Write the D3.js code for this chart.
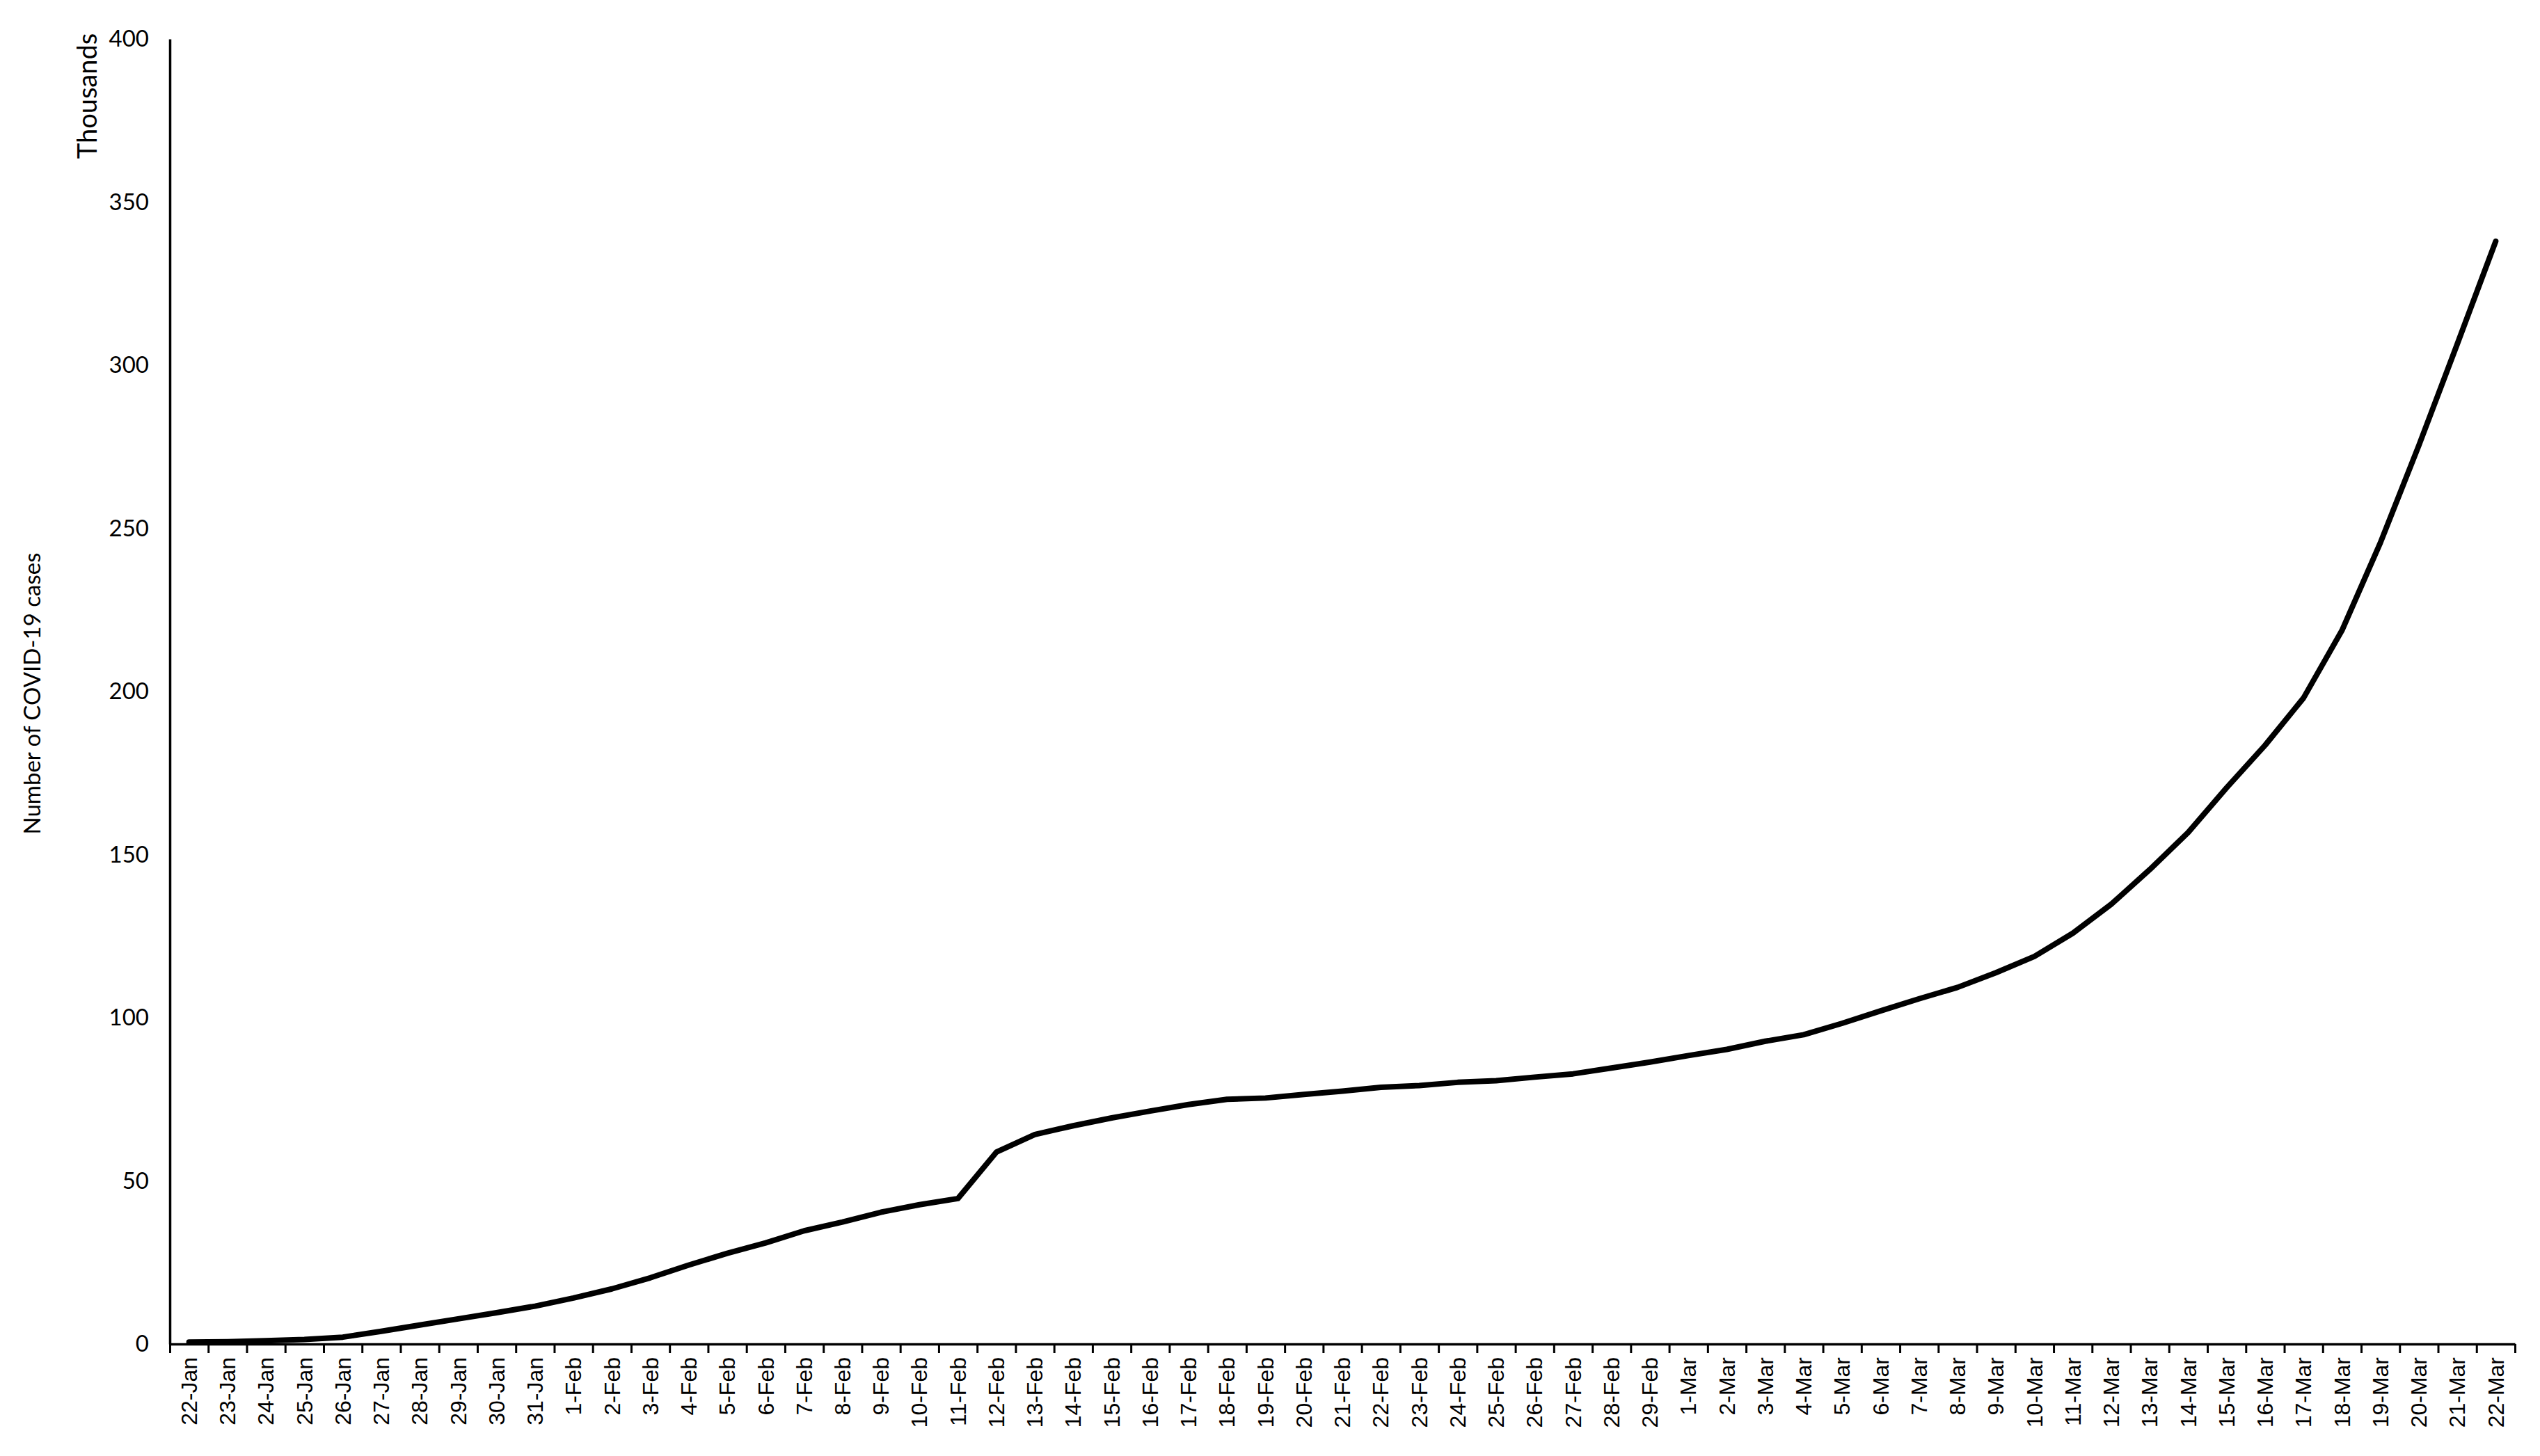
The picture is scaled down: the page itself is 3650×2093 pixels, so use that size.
<!DOCTYPE html>
<html>
<head>
<meta charset="utf-8">
<script src="https://cdn.jsdelivr.net/npm/d3@7"></script>
<style>
  body { margin: 0; background: #fff; }
</style>
</head>
<body>
<div id="chart"></div>
<script>
// categories (day labels)
var janDays = ["22-Jan","23-Jan","24-Jan","25-Jan","26-Jan","27-Jan","28-Jan","29-Jan","30-Jan","31-Jan"];
var febDays = ["1-Feb","2-Feb","3-Feb","4-Feb","5-Feb","6-Feb","7-Feb","8-Feb","9-Feb","10-Feb",
  "11-Feb","12-Feb","13-Feb","14-Feb","15-Feb","16-Feb","17-Feb","18-Feb","19-Feb","20-Feb",
  "21-Feb","22-Feb","23-Feb","24-Feb","25-Feb","26-Feb","27-Feb","28-Feb","29-Feb"];
var marDays = ["1-Mar","2-Mar","3-Mar","4-Mar","5-Mar","6-Mar","7-Mar","8-Mar","9-Mar","10-Mar",
  "11-Mar","12-Mar","13-Mar","14-Mar","15-Mar","16-Mar","17-Mar","18-Mar","19-Mar","20-Mar",
  "21-Mar","22-Mar"];
var days = janDays.concat(febDays, marDays);

// cumulative cases, thousands
var casesJan = [0.6, 0.7, 1.0, 1.4, 2.1, 3.9, 5.8, 7.7, 9.6, 11.6];
var casesFeb = [14.1, 16.9, 20.3, 24.2, 27.8, 31.0, 34.7, 37.4, 40.4, 42.7,
  44.6, 58.8, 64.2, 66.9, 69.3, 71.4, 73.4, 75.0, 75.4, 76.5,
  77.5, 78.7, 79.2, 80.2, 80.7, 81.8, 82.8, 84.6, 86.4];
var casesMar = [88.4, 90.3, 92.8, 94.8, 98.3, 102.1, 105.8, 109.3, 113.8, 118.8,
  125.9, 134.8, 145.4, 156.8, 170.5, 183.5, 198.0, 218.7, 245.6, 275.4,
  306.5, 338.0];
var cases = casesJan.concat(casesFeb, casesMar);

var yTicks = [0, 50, 100, 150, 200, 250, 300, 350, 400];

var W = 3650, H = 2093;
var margin = {left: 244, right: 3614, top: 56, bottom: 1932};

var svg = d3.select("#chart").append("svg")
  .attr("width", W)
  .attr("height", H)
  .style("background", "#fff");

var xscale = d3.scaleBand()
  .domain(days)
  .range([margin.left, margin.right])
  .padding(0);
// edges between categories, for the tick marks
var xedge = d3.scaleLinear()
  .domain([0, days.length])
  .range([margin.left, margin.right]);
var yscale = d3.scaleLinear()
  .domain([0, 400])
  .range([margin.bottom, margin.top]);

// y axis
var yaxis = d3.axisLeft(yscale)
  .tickValues(yTicks)
  .tickSize(0)
  .tickSizeOuter(0)
  .tickPadding(30);
var gy = svg.append("g")
  .attr("transform", "translate(" + margin.left + ",0)")
  .call(yaxis);
gy.select(".domain").attr("stroke", "#000").attr("stroke-width", 3.5);
gy.selectAll("text")
  .attr("fill", "#000")
  .style("font-family", "Lato, 'Open Sans', sans-serif")
  .style("font-size", "33px");

// x axis tick marks (between categories)
var xticks = d3.axisBottom(xedge)
  .tickValues(d3.range(days.length + 1))
  .tickFormat("")
  .tickSize(13)
  .tickSizeOuter(0);
var gxt = svg.append("g")
  .attr("transform", "translate(0," + margin.bottom + ")")
  .call(xticks);
gxt.select(".domain").attr("stroke", "#000").attr("stroke-width", 3.5);
gxt.selectAll(".tick line").attr("stroke", "#000").attr("stroke-width", 3);

// x labels
var xaxis = d3.axisBottom(xscale).tickSize(0).tickSizeOuter(0);
var gx = svg.append("g")
  .attr("transform", "translate(0," + margin.bottom + ")")
  .call(xaxis);
gx.select(".domain").remove();
gx.selectAll("text")
  .attr("fill", "#000")
  .attr("transform", "rotate(-90)")
  .attr("x", -19)
  .attr("y", 0)
  .attr("dy", "0.35em")
  .attr("text-anchor", "end")
  .style("font-family", "'Liberation Sans', Arial, sans-serif")
  .style("font-size", "32px");

// the line
var line = d3.line()
  .x(function(d, i){ return xscale(days[i]) + xscale.bandwidth() / 2; })
  .y(function(d){ return yscale(d); });

svg.append("path")
  .datum(cases)
  .attr("d", line)
  .attr("fill", "none")
  .attr("stroke", "#000")
  .attr("stroke-width", 8)
  .attr("stroke-linejoin", "round")
  .attr("stroke-linecap", "round");

// axis titles
svg.append("text")
  .attr("transform", "translate(46,997) rotate(-90)")
  .attr("text-anchor", "middle")
  .attr("dy", "0.35em")
  .style("font-family", "Lato, 'Open Sans', sans-serif")
  .style("font-size", "33px")
  .text("Number of COVID-19 cases");

svg.append("text")
  .attr("transform", "translate(126,138) rotate(-90)")
  .attr("text-anchor", "middle")
  .attr("dy", "0.35em")
  .style("font-family", "Lato, 'Open Sans', sans-serif")
  .style("font-size", "38px")
  .text("Thousands");
</script>
</body>
</html>
